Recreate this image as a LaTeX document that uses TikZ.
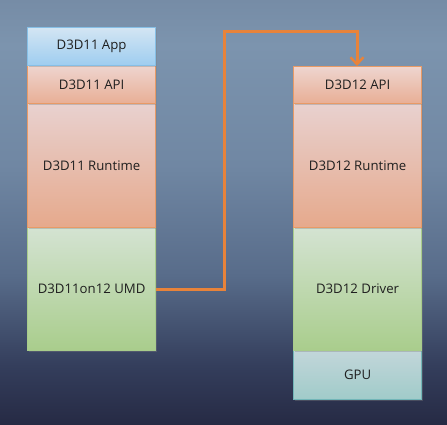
\documentclass[tikz,border=0pt]{standalone}
\usepackage{fontspec}
\setmainfont{Open Sans}
\usetikzlibrary{arrows.meta,shadows}
\definecolor{bluetop}{HTML}{D3E5F3}
\definecolor{bluebot}{HTML}{9ECDF0}
\definecolor{blueedge}{HTML}{86BFE6}
\definecolor{apitop}{HTML}{EED5CF}
\definecolor{apibot}{HTML}{E8AE95}
\definecolor{orangeedge}{HTML}{E89A66}
\definecolor{rttop}{HTML}{E8D1CF}
\definecolor{rtbot}{HTML}{E6A98C}
\definecolor{grtop}{HTML}{D4E3D2}
\definecolor{grbot}{HTML}{A9CD8C}
\definecolor{greenedge}{HTML}{A8CC8B}
\definecolor{gputop}{HTML}{C2D6DA}
\definecolor{gpubot}{HTML}{A0CBC9}
\definecolor{gpuedge}{HTML}{72B6B8}
\definecolor{conn}{HTML}{E8833A}
\pgfdeclareverticalshading{bgshade}{100bp}{%
  color(0bp)=(rgb,255:red,38;green,42;blue,68);
  color(25bp)=(rgb,255:red,38;green,42;blue,68);
  color(32bp)=(rgb,255:red,52;green,62;blue,92);
  color(42.6bp)=(rgb,255:red,88;green,108;blue,138);
  color(55.6bp)=(rgb,255:red,112;green,135;blue,163);
  color(69.7bp)=(rgb,255:red,124;green,148;blue,174);
  color(75bp)=(rgb,255:red,118;green,140;blue,166);
  color(100bp)=(rgb,255:red,118;green,140;blue,166)}
\tikzset{
  layer/.style={draw, line width=1.2pt, minimum width=128pt, inner sep=0pt, anchor=north west,
    font=\fontsize{13.2}{15}\selectfont, text=black!88,
    drop shadow={shadow xshift=1.5pt, shadow yshift=-1.5pt, opacity=0.35}},
  bluelayer/.style={layer, top color=bluetop, bottom color=bluebot, draw=blueedge},
  apilayer/.style={layer, top color=apitop, bottom color=apibot, draw=orangeedge},
  rtlayer/.style={layer, top color=rttop, bottom color=rtbot, draw=orangeedge},
  grlayer/.style={layer, top color=grtop, bottom color=grbot, draw=greenedge},
  gpulayer/.style={layer, top color=gputop, bottom color=gpubot, draw=gpuedge},
  connector/.style={draw=conn, line width=3pt, line join=miter,
    -{Straight Barb[length=7pt, width=13pt, line width=2.4pt]}}
}
\begin{document}
\begin{tikzpicture}[x=1pt, y=-1pt]
\shade[shading=bgshade] (0,0) rectangle (447,425);
\useasboundingbox (0,0) rectangle (447,425);
% left stack
\node[grlayer, minimum height=123pt] (umd) at (27,227) {D3D11on12 UMD};
\node[rtlayer, minimum height=124pt] (rt11) at (27,103) {D3D11 Runtime};
\node[apilayer, minimum height=38pt] (api11) at (27,65) {D3D11 API};
\node[bluelayer, minimum height=38pt] (app) at (27,27) {D3D11 App};
% right stack
\node[gpulayer, minimum height=49pt] (gpu) at (293,350) {GPU};
\node[grlayer, minimum height=123pt] (drv) at (293,227) {D3D12 Driver};
\node[rtlayer, minimum height=124pt] (rt12) at (293,103) {D3D12 Runtime};
\node[apilayer, minimum height=37pt] (api12) at (293,66) {D3D12 API};
% connector
\coordinate (c1) at (224,289);
\coordinate (c2) at (224,32);
\coordinate (c3) at (357,32);
\draw[connector] (umd.east |- c1) -- (c1) -- (c2) -- (c3) -- (c3 |- api12.north);
\end{tikzpicture}
\end{document}
